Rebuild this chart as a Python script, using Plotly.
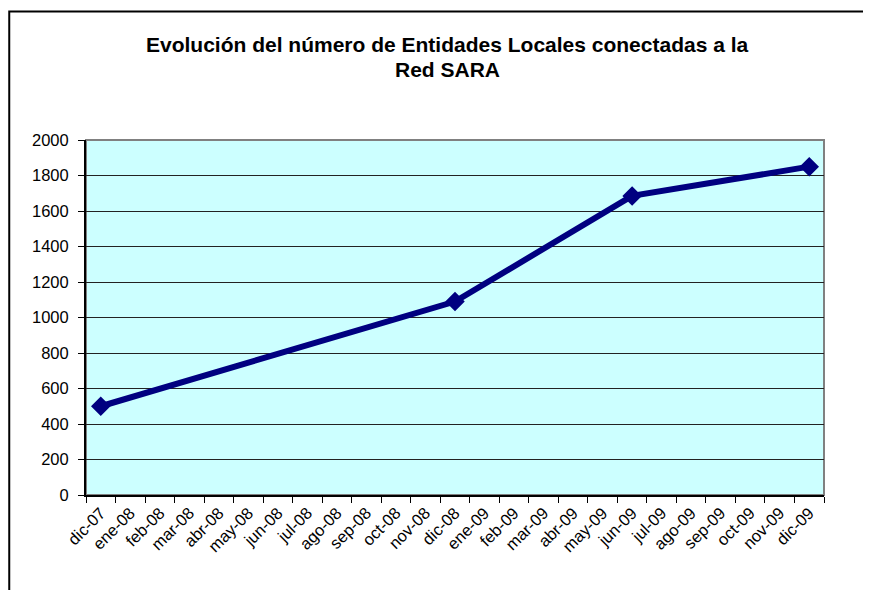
"""Evolución del número de Entidades Locales conectadas a la Red SARA."""

import plotly.graph_objects as go

MONTHS = [
    "dic-07", "ene-08", "feb-08", "mar-08", "abr-08", "may-08", "jun-08",
    "jul-08", "ago-08", "sep-08", "oct-08", "nov-08", "dic-08", "ene-09",
    "feb-09", "mar-09", "abr-09", "may-09", "jun-09", "jul-09", "ago-09",
    "sep-09", "oct-09", "nov-09", "dic-09",
]

# only four months have a recorded value, the rest are left empty
ENTIDADES = [
    500, None, None, None, None, None, None, None, None, None, None, None,
    1090, None, None, None, None, None, 1685, None, None, None, None, None,
    1850,
]

Y_TICKS = [0, 200, 400, 600, 800, 1000, 1200, 1400, 1600, 1800, 2000]

TITLE_LINES = [
    "Evolución del número de Entidades Locales conectadas a la",
    "Red SARA",
]

NAVY = "#000080"
FONT = "Liberation Sans, Arial, sans-serif"

fig = go.Figure(
    data=go.Scatter(
        x=MONTHS,
        y=ENTIDADES,
        mode="lines+markers",
        connectgaps=True,
        line=dict(color=NAVY, width=6),
        marker=dict(symbol="diamond", size=15, color=NAVY),
        showlegend=False,
    )
)

# title drawn as two annotations so the line spacing can be kept tight
for line, ypos in zip(TITLE_LINES, [1.27, 1.198]):
    fig.add_annotation(
        text=f"<b>{line}</b>",
        xref="paper", yref="paper",
        x=0.49, y=ypos,
        xanchor="center", yanchor="middle",
        showarrow=False,
        font=dict(family=FONT, size=21, color="black"),
    )

fig.update_layout(
    width=871,
    height=590,
    margin=dict(l=78, r=55, t=132, b=103),
    paper_bgcolor="white",
    plot_bgcolor="#CCFFFF",
    font=dict(family=FONT, size=16, color="black"),
    xaxis=dict(
        type="category",
        tickson="boundaries",
        ticks="outside",
        ticklen=6,
        tickcolor="black",
        tickangle=-45,
        showline=True,
        linecolor="black",
        linewidth=2,
        showgrid=False,
        range=[-0.5, len(MONTHS) - 0.5],
        tickfont=dict(family=FONT, size=16.5),
    ),
    yaxis=dict(
        range=[0, 2000],
        tickvals=Y_TICKS,
        ticks="outside",
        ticklen=6,
        tickcolor="black",
        ticklabelstandoff=6,
        showline=True,
        linecolor="black",
        linewidth=2,
        showgrid=True,
        gridcolor="#222222",
        gridwidth=1.4,
        zeroline=False,
        tickfont=dict(family=FONT, size=16.5),
    ),
    shapes=[
        # grey frame of the plot area (top and right edges show)
        dict(
            type="rect", xref="paper", yref="paper",
            x0=0, x1=1, y0=0, y1=1,
            line=dict(color="#808080", width=2),
            layer="below",
        ),
        # outer chart border, cropped at the right and bottom
        dict(
            type="rect", xref="paper", yref="paper",
            x0=-0.104, x1=1.2, y0=-0.5, y1=1.362,
            line=dict(color="black", width=2),
        ),
    ],
)

fig.write_html("out.html")
